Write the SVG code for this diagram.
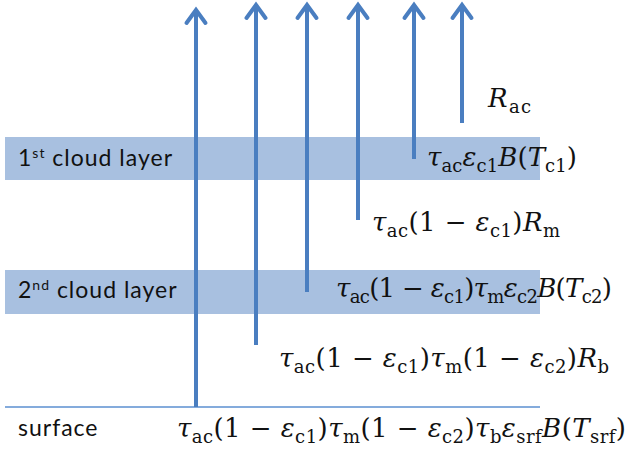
<svg xmlns="http://www.w3.org/2000/svg" width="630" height="453" viewBox="0 0 630 453">
<defs>
<marker id="head" markerUnits="userSpaceOnUse" markerWidth="40" markerHeight="40" viewBox="-20 -20 40 40" refX="0" refY="0" orient="auto" overflow="visible">
<path d="M-13,-9.5 L0,0 L-13,9.5" fill="none" stroke="#4a7ec0" stroke-width="4" stroke-linejoin="miter" stroke-linecap="round"/>
</marker>
</defs>
<style>
.band{fill:#a8c0e0}
.arrow{stroke:#4a7ec0;stroke-width:4;fill:none}
.lbl{font-family:Lato,"Open Sans","Liberation Sans",sans-serif;font-size:23px;letter-spacing:1px;fill:#111}
.m{font-family:"DejaVu Serif","Liberation Serif",serif;font-size:26px;fill:#111}
.i{font-style:italic}
.s{font-size:18px}
</style>
<rect width="630" height="453" fill="#fff"/>
<g id="cloud1">
<rect class="band" x="5" y="137" width="535" height="43"/>
<text class="lbl" x="18" y="166">1<tspan font-size="14" dy="-8">st</tspan><tspan dy="8"> cloud layer</tspan></text>
</g>
<g id="cloud2">
<rect class="band" x="5" y="270" width="535" height="44"/>
<text class="lbl" x="18" y="298">2<tspan font-size="14" dy="-8">nd</tspan><tspan dy="8"> cloud layer</tspan></text>
</g>
<g id="surface">
<line x1="5" y1="407" x2="540" y2="407" stroke="#5b8fd0" stroke-width="1.5"/>
<text class="lbl" x="18" y="436">surface</text>
</g>
<g id="connectors">
<line class="arrow" x1="196" y1="407" x2="196" y2="10" marker-end="url(#head)"/>
<line class="arrow" x1="256" y1="345" x2="256" y2="5" marker-end="url(#head)"/>
<line class="arrow" x1="307" y1="292" x2="307" y2="5" marker-end="url(#head)"/>
<line class="arrow" x1="358" y1="220" x2="358" y2="5" marker-end="url(#head)"/>
<line class="arrow" x1="414" y1="159" x2="414" y2="5" marker-end="url(#head)"/>
<line class="arrow" x1="462" y1="123" x2="462" y2="5" marker-end="url(#head)"/>
</g>
<g id="labels">
<text class="m" x="488" y="107" textLength="43"><tspan class="i">R</tspan><tspan class="s" dy="6">ac</tspan></text>
<text class="m" x="427" y="166" textLength="150"><tspan class="i">τ</tspan><tspan class="s" dy="6">ac</tspan><tspan class="i" dy="-6">ε</tspan><tspan class="s" dy="6">c1</tspan><tspan class="i" dy="-6">B</tspan><tspan>(</tspan><tspan class="i">T</tspan><tspan class="s" dy="6">c1</tspan><tspan dy="-6">)</tspan></text>
<text class="m" x="372" y="231" textLength="188"><tspan class="i">τ</tspan><tspan class="s" dy="6">ac</tspan><tspan dy="-6">(1 − </tspan><tspan class="i">ε</tspan><tspan class="s" dy="6">c1</tspan><tspan dy="-6">)</tspan><tspan class="i">R</tspan><tspan class="s" dy="6">m</tspan></text>
<text class="m" x="336" y="297" textLength="276"><tspan class="i">τ</tspan><tspan class="s" dy="6">ac</tspan><tspan dy="-6">(1 − </tspan><tspan class="i">ε</tspan><tspan class="s" dy="6">c1</tspan><tspan dy="-6">)</tspan><tspan class="i">τ</tspan><tspan class="s" dy="6">m</tspan><tspan class="i" dy="-6">ε</tspan><tspan class="s" dy="6">c2</tspan><tspan class="i" dy="-6">B</tspan><tspan>(</tspan><tspan class="i">T</tspan><tspan class="s" dy="6">c2</tspan><tspan dy="-6">)</tspan></text>
<text class="m" x="279" y="367" textLength="330"><tspan class="i">τ</tspan><tspan class="s" dy="6">ac</tspan><tspan dy="-6">(1 − </tspan><tspan class="i">ε</tspan><tspan class="s" dy="6">c1</tspan><tspan dy="-6">)</tspan><tspan class="i">τ</tspan><tspan class="s" dy="6">m</tspan><tspan dy="-6">(1 − </tspan><tspan class="i">ε</tspan><tspan class="s" dy="6">c2</tspan><tspan dy="-6">)</tspan><tspan class="i">R</tspan><tspan class="s" dy="6">b</tspan></text>
<text class="m" x="177" y="437" textLength="449"><tspan class="i">τ</tspan><tspan class="s" dy="6">ac</tspan><tspan dy="-6">(1 − </tspan><tspan class="i">ε</tspan><tspan class="s" dy="6">c1</tspan><tspan dy="-6">)</tspan><tspan class="i">τ</tspan><tspan class="s" dy="6">m</tspan><tspan dy="-6">(1 − </tspan><tspan class="i">ε</tspan><tspan class="s" dy="6">c2</tspan><tspan dy="-6">)</tspan><tspan class="i">τ</tspan><tspan class="s" dy="6">b</tspan><tspan class="i" dy="-6">ε</tspan><tspan class="s" dy="6">srf</tspan><tspan class="i" dy="-6">B</tspan><tspan>(</tspan><tspan class="i">T</tspan><tspan class="s" dy="6">srf</tspan><tspan dy="-6">)</tspan></text>
</g>
</svg>
